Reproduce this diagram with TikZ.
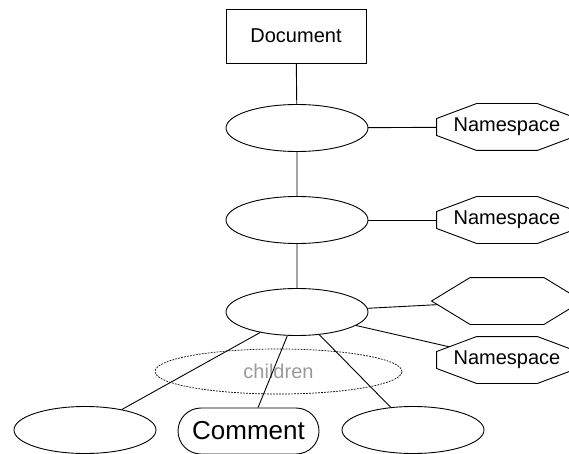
\documentclass[tikz,border=0pt]{standalone}
\usepackage{fontspec}
\setmainfont{Liberation Sans}
\usetikzlibrary{shapes.geometric}
\pgfdeclarelayer{bg}
\pgfdeclarelayer{mid}
\pgfsetlayers{bg,mid,main}
\definecolor{softgray}{HTML}{9A9A9A}
\begin{document}
\begin{tikzpicture}[x=1pt, y=-1pt, line width=0.9pt,
  lbl/.style={font=\fontsize{20}{24}\selectfont},
  item/.style={draw, fill=white, ellipse, minimum width=142pt, minimum height=47pt, inner sep=0pt},
  frame/.style={draw=none, minimum width=140pt, minimum height=46pt, inner sep=0pt, lbl},
  link/.style={draw, line width=0.9pt},
  outline/.style={draw, fill=white, line width=0.9pt}]
\useasboundingbox (0,0) rectangle (569,454);

% tree nodes
\node[draw, fill=white, minimum width=140pt, minimum height=54pt, inner sep=0pt, lbl] (doc) at (296,36) {Document};
\node[item] (e1) at (297,128) {};
\node[item] (e2) at (297,220) {};
\node[item] (e3) at (297,312) {};

% attribute and namespace nodes (outlines drawn below)
\node[frame] (ns1) at (507,127) {Namespace};
\node[frame] (ns2) at (507,220) {Namespace};
\node[frame, minimum width=150pt] (hx) at (507,301) {};
\node[frame] (ns4) at (507,360) {Namespace};

% leaf nodes
\node[item] (leaf1) at (85,430) {};
\node[draw, fill=white, rounded corners=23pt, minimum width=141pt, minimum height=46pt, inner sep=0pt,
      font=\fontsize{26}{30}\selectfont] (cmt) at (248.5,431) {Comment};
\node[item] (leaf3) at (413,430) {};

% group of children
\node[ellipse, draw, dash pattern=on 1.8pt off 1.2pt, line width=0.7pt, minimum width=247pt, minimum height=45pt,
      inner sep=0pt, text=softgray, lbl] (kids) at (278.5,371.5) {children};

% octagon and hexagon outlines
\begin{pgfonlayer}{mid}
  \foreach \n in {ns1,ns2,ns4}{
    \path[outline] ([xshift=40pt]\n.north west) -- ([xshift=-40pt]\n.north east)
      -- ([yshift=-15pt]\n.north east) -- ([yshift=15pt]\n.south east)
      -- ([xshift=-40pt]\n.south east) -- ([xshift=40pt]\n.south west)
      -- ([yshift=15pt]\n.south west) -- ([yshift=-15pt]\n.north west) -- cycle;
  }
  \path[outline] ([xshift=38.5pt]hx.north west) -- ([xshift=-38.5pt]hx.north east)
    -- (hx.east) -- ([xshift=-38.5pt]hx.south east) -- ([xshift=38.5pt]hx.south west)
    -- (hx.west) -- cycle;
\end{pgfonlayer}

% connectors, centre to centre, covered by the filled shapes
\begin{pgfonlayer}{bg}
  \path[link] (doc.center) -- (e1.center) -- (e2.center) -- (e3.center);
  \path[link] (e1.center) -- (ns1.center);
  \path[link] (e2.center) -- (ns2.center);
  \path[link] (e3.center) -- (hx.center);
  \path[link] (e3.center) -- (ns4.center);
\end{pgfonlayer}
\path[link] (e3) -- (leaf1);
\path[link] (e3) -- (cmt);
\path[link] (e3) -- (leaf3);
\end{tikzpicture}
\end{document}
